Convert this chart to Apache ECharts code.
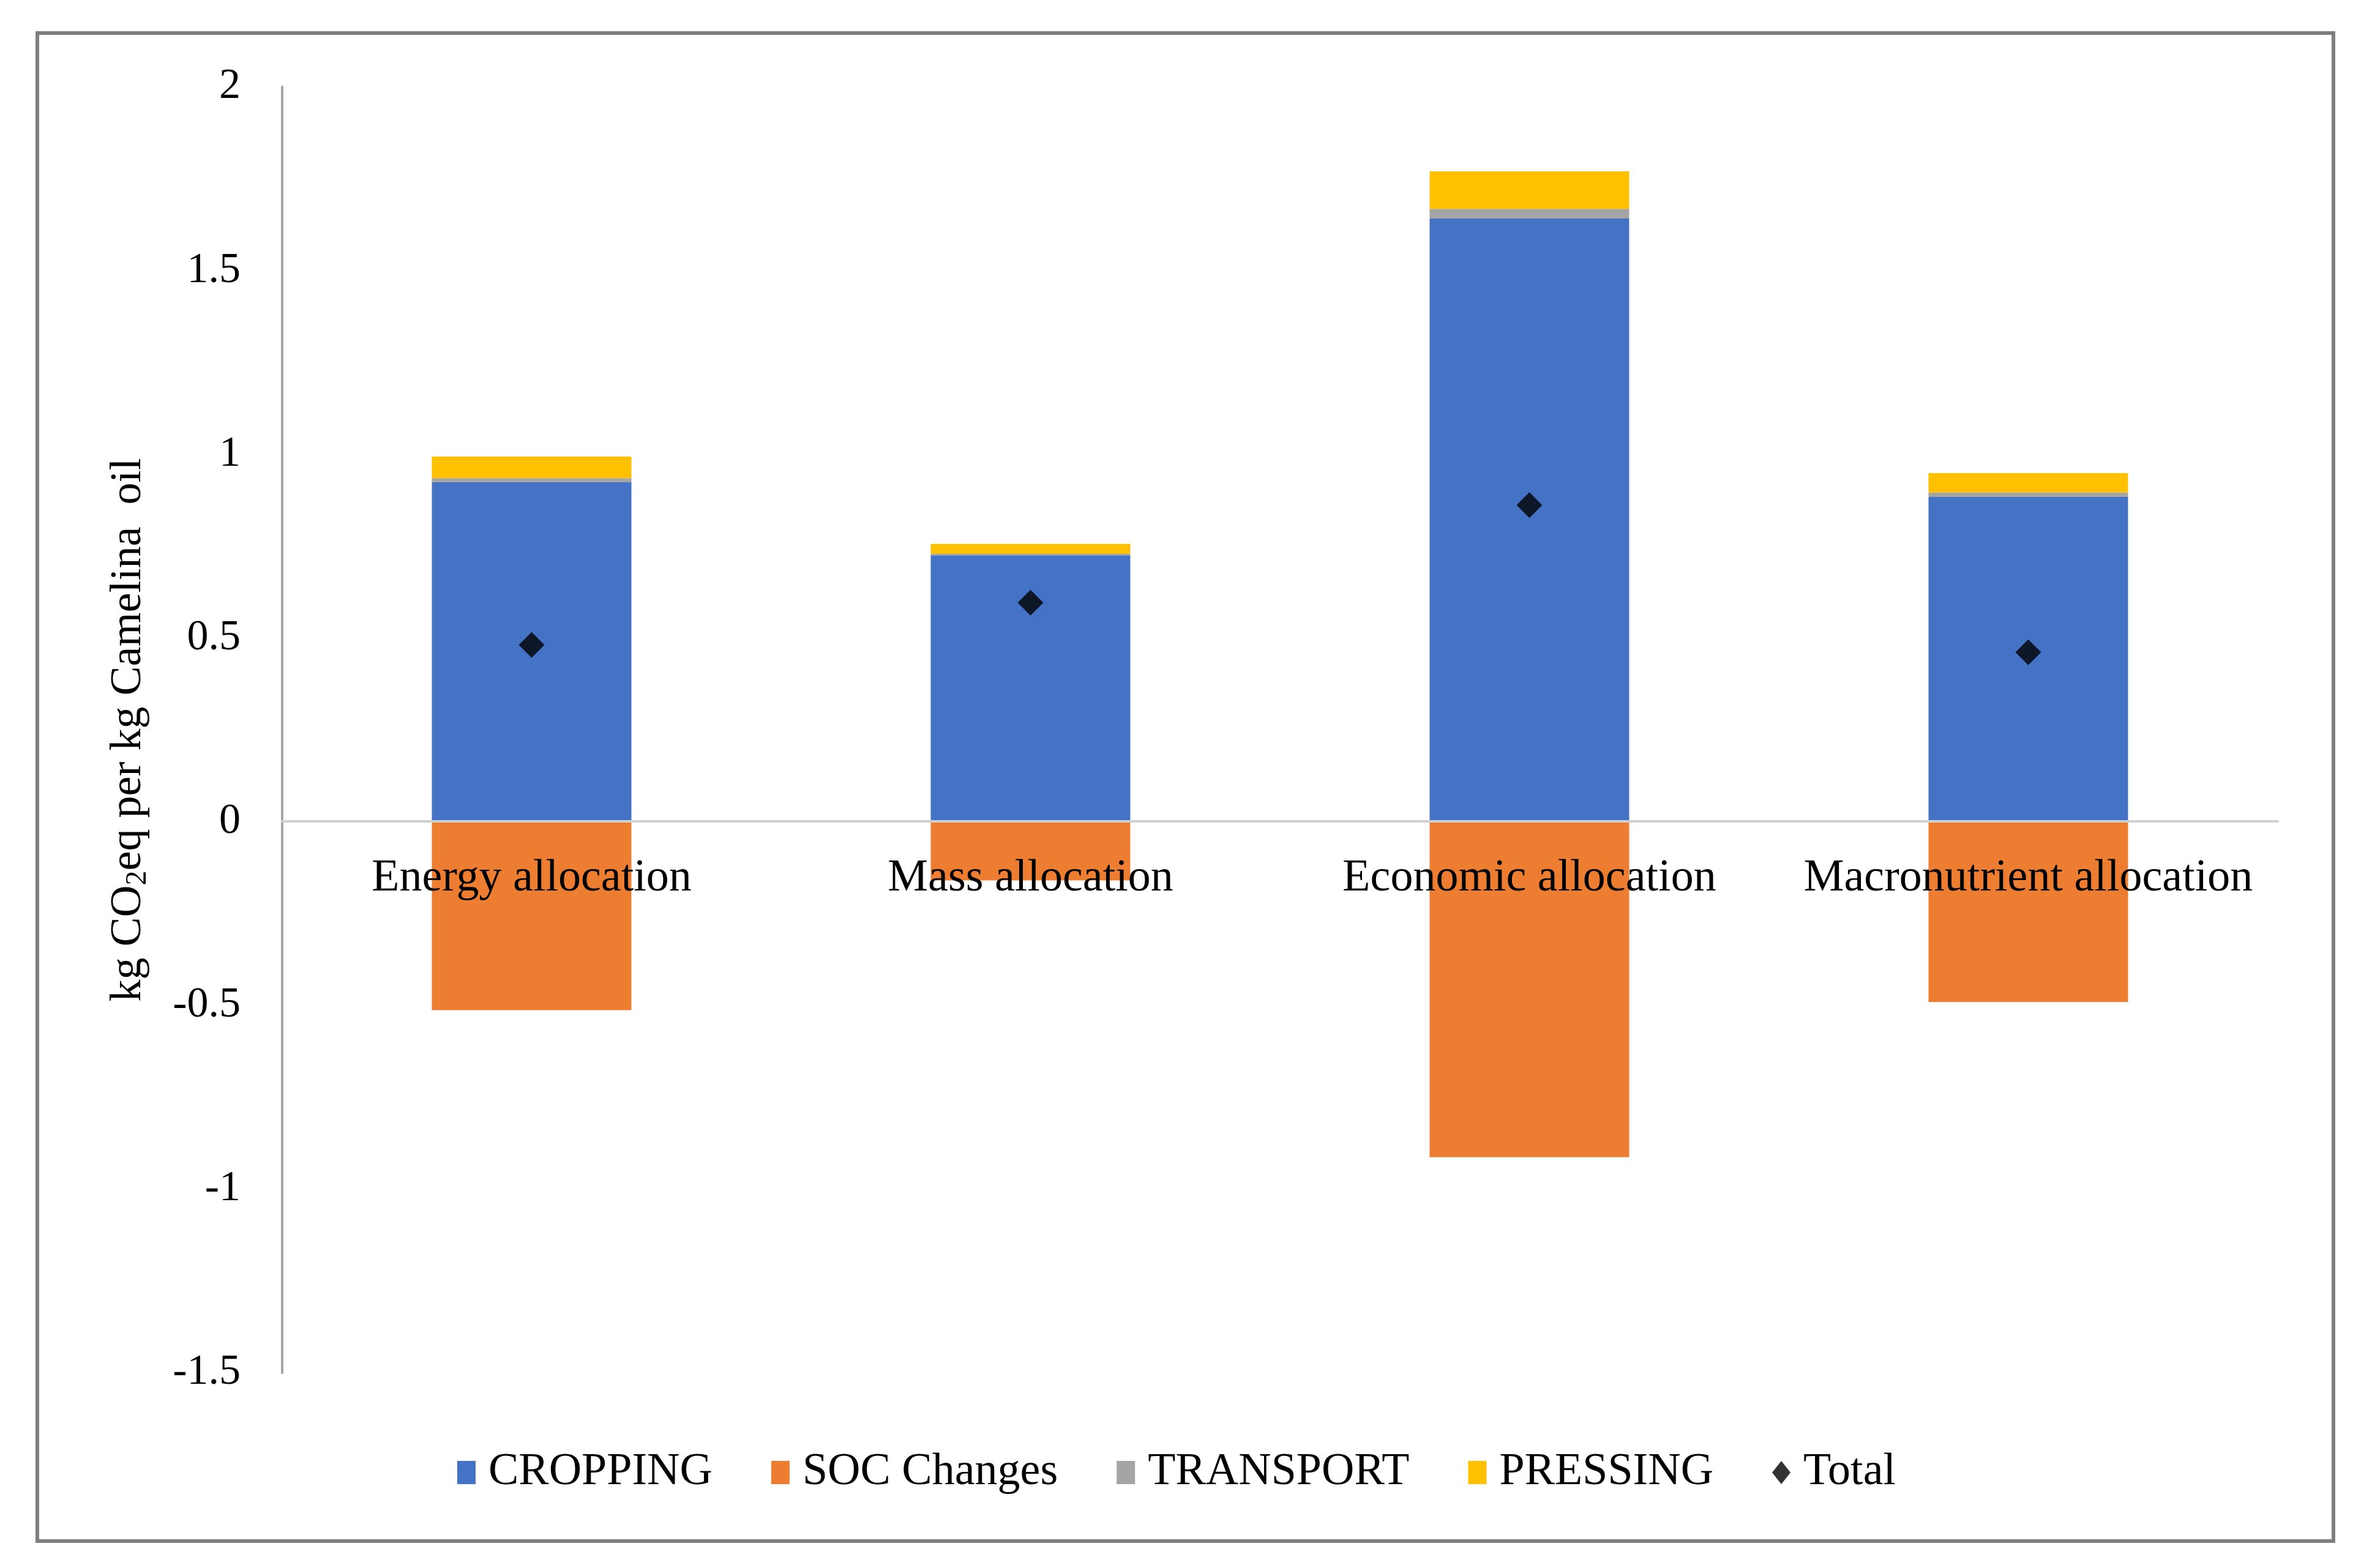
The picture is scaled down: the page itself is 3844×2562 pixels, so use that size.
<!DOCTYPE html>
<html>
<head>
<meta charset="utf-8">
<script src="https://cdn.jsdelivr.net/npm/echarts@6/dist/echarts.min.js"></script>
<style>
html,body{margin:0;padding:0;background:#fff;}
#chart{width:3844px;height:2562px;}
</style>
</head>
<body>
<div id="chart"></div>
<script>
const categories = ['Energy allocation', 'Mass allocation', 'Economic allocation', 'Macronutrient allocation'];
const cropping  = [0.924, 0.725, 1.642, 0.884];
const socChanges = [-0.513, -0.160, -0.913, -0.491];
const transport = [0.011, 0.004, 0.026, 0.012];
const pressing  = [0.059, 0.027, 0.102, 0.053];
const total     = [0.481, 0.596, 0.862, 0.461];
const yTicks = { min: -1.5, max: 2, interval: 0.5 };

const FONT = 'Liberation Serif';
const chart = echarts.init(document.getElementById('chart'));
chart.setOption({
  backgroundColor: '#ffffff',
  animation: false,
  graphic: [{
    type: 'rect', z: -1,
    shape: { x: 61, y: 54, width: 3751, height: 2464 },
    style: { fill: 'none', stroke: '#7f7f7f', lineWidth: 6 }
  }],
  grid: { left: 461, right: 123, top: 142, bottom: 319 },
  legend: {
    top: 2364, left: 'center',
    itemWidth: 30, itemHeight: 38, itemGap: 96,
    textStyle: { fontFamily: FONT, fontSize: 74, color: '#000', padding: [0, 0, 0, 16] },
    data: [
      { name: 'CROPPING', icon: 'rect' },
      { name: 'SOC Changes', icon: 'rect' },
      { name: 'TRANSPORT', icon: 'rect' },
      { name: 'PRESSING', icon: 'rect' },
      { name: 'Total', icon: 'diamond' }
    ]
  },
  xAxis: {
    type: 'category', data: categories, z: 10,
    offset: -901,
    axisLine: { onZero: false, lineStyle: { color: '#d0d0d0', width: 4 } },
    axisTick: { show: false },
    axisLabel: { fontFamily: FONT, fontSize: 74, color: '#000', margin: 57, interval: 0 }
  },
  yAxis: {
    type: 'value', min: yTicks.min, max: yTicks.max, interval: yTicks.interval,
    axisLine: { show: true, lineStyle: { color: '#a6a6a6', width: 4 } },
    axisTick: { show: false },
    splitLine: { show: false },
    axisLabel: { fontFamily: FONT, fontSize: 70, color: '#000', margin: 68 },
    name: '{a|kg CO}{s|2}{a|eq per kg Camelina  oil}',
    nameLocation: 'middle', nameRotate: 90, nameGap: 212,
    nameTextStyle: {
      fontFamily: FONT, fontSize: 72, color: '#000',
      rich: {
        a: { fontFamily: FONT, fontSize: 72, color: '#000' },
        s: { fontFamily: FONT, fontSize: 48, color: '#000', verticalAlign: 'bottom', padding: [30, 0, 0, 0] }
      }
    }
  },
  series: [
    { name: 'CROPPING', type: 'bar', stack: 'a', barWidth: '40%', data: cropping, itemStyle: { color: '#4472C4' } },
    { name: 'SOC Changes', type: 'bar', stack: 'a', data: socChanges, itemStyle: { color: '#ED7D31' } },
    { name: 'TRANSPORT', type: 'bar', stack: 'a', data: transport, itemStyle: { color: '#A5A5A5' } },
    { name: 'PRESSING', type: 'bar', stack: 'a', data: pressing, itemStyle: { color: '#FFC000' } },
    { name: 'Total', type: 'scatter', symbol: 'diamond', symbolSize: 42, data: total, itemStyle: { color: '#000' }, z: 5 }
  ]
});
</script>
</body>
</html>
